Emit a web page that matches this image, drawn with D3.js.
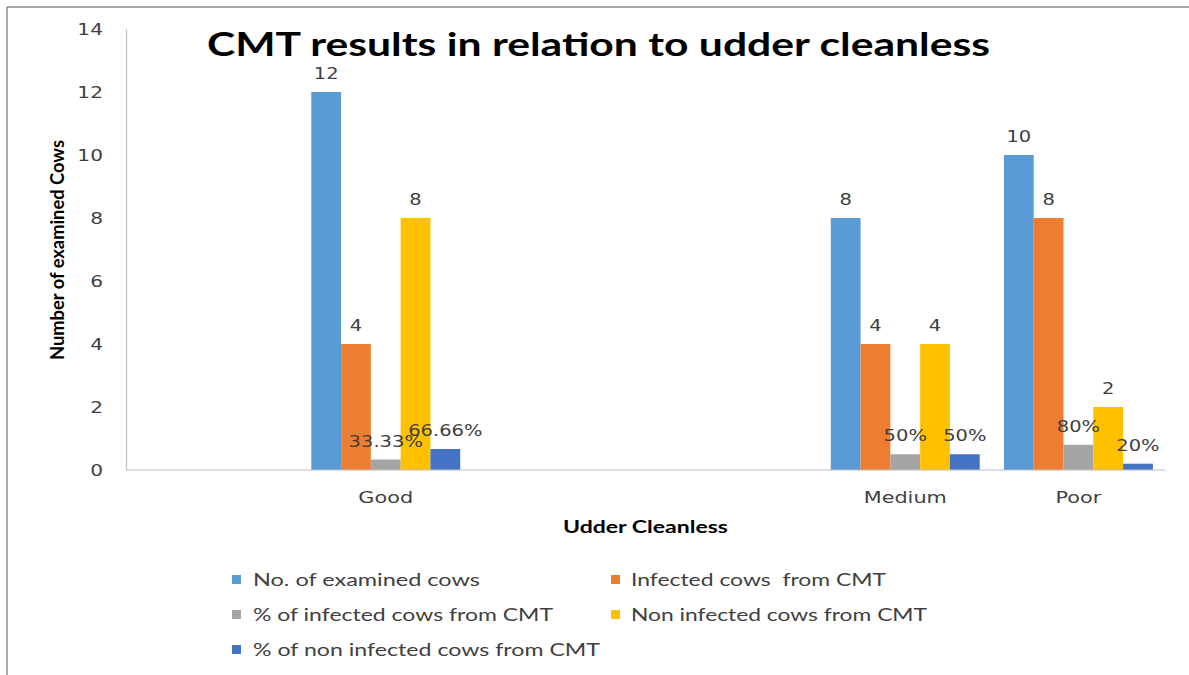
<!DOCTYPE html>
<html>
<head>
<meta charset="utf-8">
<script src="https://cdn.jsdelivr.net/npm/d3@7/dist/d3.min.js"></script>
<style>
  html, body { margin: 0; padding: 0; background: #fff; }
  svg { display: block; }
</style>
</head>
<body>
<svg id="chart" width="1189" height="675"></svg>
<script>
// ---------- data ----------
const categories = ["", "Good", "", "", "Medium", "Poor"];
const seriesNames = [
  "No. of examined cows",
  "Infected cows  from CMT",
  "% of infected cows from CMT",
  "Non infected cows from CMT",
  "% of non infected cows from CMT"
];
const examinedCows    = [null, 12, null, null, 8, 10];
const infectedCows    = [null, 4, null, null, 4, 8];
const pctInfected     = [null, 0.3333, null, null, 0.5, 0.8];
const nonInfectedCows = [null, 8, null, null, 4, 2];
const pctNonInfected  = [null, 0.6666, null, null, 0.5, 0.2];
const pctInfectedLabels    = [null, "33.33%", null, null, "50%", "80%"];
const pctNonInfectedLabels = [null, "66.66%", null, null, "50%", "20%"];
const yTicks = [0, 2, 4, 6, 8, 10, 12, 14];
const colors = ["#5B9BD5", "#ED7D31", "#A5A5A5", "#FFC000", "#4472C4"];

const seriesValues = [examinedCows, infectedCows, pctInfected, nonInfectedCows, pctNonInfected];
const seriesLabels = [
  examinedCows.map(v => v == null ? null : String(v)),
  infectedCows.map(v => v == null ? null : String(v)),
  pctInfectedLabels,
  nonInfectedCows.map(v => v == null ? null : String(v)),
  pctNonInfectedLabels
];

// ---------- layout ----------
const svg = d3.select("#chart");
const plot = { left: 126, right: 1165, top: 29, bottom: 470 };

// outer frame (top + left visible)
svg.append("line").attr("x1", 7).attr("y1", 7).attr("x2", 1189).attr("y2", 7)
  .attr("stroke", "#8c8c8c").attr("stroke-width", 1.5);
svg.append("line").attr("x1", 7).attr("y1", 7).attr("x2", 7).attr("y2", 675)
  .attr("stroke", "#8c8c8c").attr("stroke-width", 1.5);

const x0 = d3.scaleBand().domain(d3.range(categories.length))
  .range([plot.left, plot.right]).padding(0);
const gap = x0.bandwidth() * 0.14;
const x1 = d3.scaleBand().domain(d3.range(seriesNames.length))
  .range([gap / 2, x0.bandwidth() - gap / 2]).padding(0);
const y = d3.scaleLinear().domain([0, 14]).range([plot.bottom, plot.top]);

const SX = 1.3; // horizontal stretch seen in the reference text

function stretchedText(g, x, yy, txt, opts) {
  return g.append("text")
    .attr("transform", `translate(${x},${yy}) scale(${opts.sx || SX},1)`)
    .attr("text-anchor", opts.anchor || "middle")
    .attr("font-family", opts.family || "DejaVu Sans")
    .attr("font-size", opts.size || 15)
    .attr("font-weight", opts.weight || "normal")
    .attr("fill", opts.fill || "#404040")
    .attr("dominant-baseline", opts.baseline || "auto")
    .text(txt);
}

// ---------- y axis ----------
const yAxis = d3.axisLeft(y).tickValues(yTicks).tickSize(0).tickPadding(0);
const yg = svg.append("g").attr("transform", `translate(${plot.left},0)`).call(yAxis);
yg.select(".domain").attr("stroke", "#BFBFBF").attr("stroke-width", 1.2);
yg.selectAll(".tick text").remove();
yg.selectAll(".tick").each(function(d) {
  stretchedText(d3.select(this), -23, 0, d, {anchor: "end", fill: "#404040", size: 15.5, baseline: "central"});
});

// ---------- bars ----------
const groups = svg.append("g").selectAll("g.cat")
  .data(categories.map((c, i) => i))
  .join("g").attr("class", "cat")
  .attr("transform", i => `translate(${x0(i)},0)`);

seriesValues.forEach((vals, s) => {
  groups.each(function(i) {
    const v = vals[i];
    if (v == null) return;
    const g = d3.select(this);
    g.append("rect")
      .attr("x", x1(s)).attr("width", x1.bandwidth())
      .attr("y", y(v)).attr("height", y(0) - y(v))
      .attr("fill", colors[s]);
  });
});
// data labels (drawn after bars so they stay on top)
seriesValues.forEach((vals, s) => {
  groups.each(function(i) {
    const v = vals[i];
    if (v == null) return;
    stretchedText(d3.select(this), x1(s) + x1.bandwidth() / 2, y(v) - 13, seriesLabels[s][i],
      {fill: "#404040", size: 15});
  });
});

// x baseline
svg.append("line").attr("x1", plot.left).attr("x2", plot.right)
  .attr("y1", y(0)).attr("y2", y(0)).attr("stroke", "#BFBFBF").attr("stroke-width", 1.2);

// category labels
const xAxis = d3.axisBottom(x0).tickSize(0).tickFormat(i => categories[i]);
const xg = svg.append("g").attr("transform", `translate(0,${plot.bottom})`).call(xAxis);
xg.select(".domain").remove();
xg.selectAll(".tick text").remove();
xg.selectAll(".tick").each(function(i) {
  if (!categories[i]) return;
  stretchedText(d3.select(this), 0, 33, categories[i], {fill: "#404040", size: 16});
});

// ---------- titles ----------
svg.append("text").attr("x", 207).attr("y", 56)
  .attr("font-family", "Lato").attr("font-weight", "bold").attr("font-size", 32)
  .attr("fill", "#000").attr("textLength", 783).attr("lengthAdjust", "spacingAndGlyphs")
  .text("CMT results in relation to udder cleanless");

svg.append("text").attr("x", 563).attr("y", 533)
  .attr("font-family", "Lato").attr("font-weight", "bold").attr("font-size", 16.5)
  .attr("fill", "#000").attr("textLength", 165).attr("lengthAdjust", "spacingAndGlyphs")
  .text("Udder Cleanless");

svg.append("text").attr("transform", "translate(64,360) rotate(-90)")
  .attr("x", 0).attr("y", 0)
  .attr("font-family", "Lato").attr("font-weight", "bold").attr("font-size", 18)
  .attr("fill", "#000").attr("textLength", 220).attr("lengthAdjust", "spacingAndGlyphs")
  .text("Number of examined Cows");

// ---------- legend ----------
const legendPos = [
  {sx: 232, tx: 253, by: 586, w: 227},
  {sx: 611, tx: 631, by: 586, w: 255},
  {sx: 232, tx: 253, by: 621, w: 300},
  {sx: 611, tx: 631, by: 621, w: 296},
  {sx: 232, tx: 253, by: 656, w: 347}
];
const legend = svg.append("g");
seriesNames.forEach((name, s) => {
  const p = legendPos[s];
  legend.append("rect").attr("x", p.sx).attr("y", p.by - 11).attr("width", 9).attr("height", 9)
    .attr("fill", colors[s]);
  legend.append("text").attr("x", p.tx).attr("y", p.by)
    .attr("font-family", "Lato").attr("font-size", 18).attr("fill", "#404040")
    .attr("textLength", p.w).attr("lengthAdjust", "spacingAndGlyphs")
    .attr("xml:space", "preserve").style("white-space", "pre")
    .text(name);
});
</script>
</body>
</html>
